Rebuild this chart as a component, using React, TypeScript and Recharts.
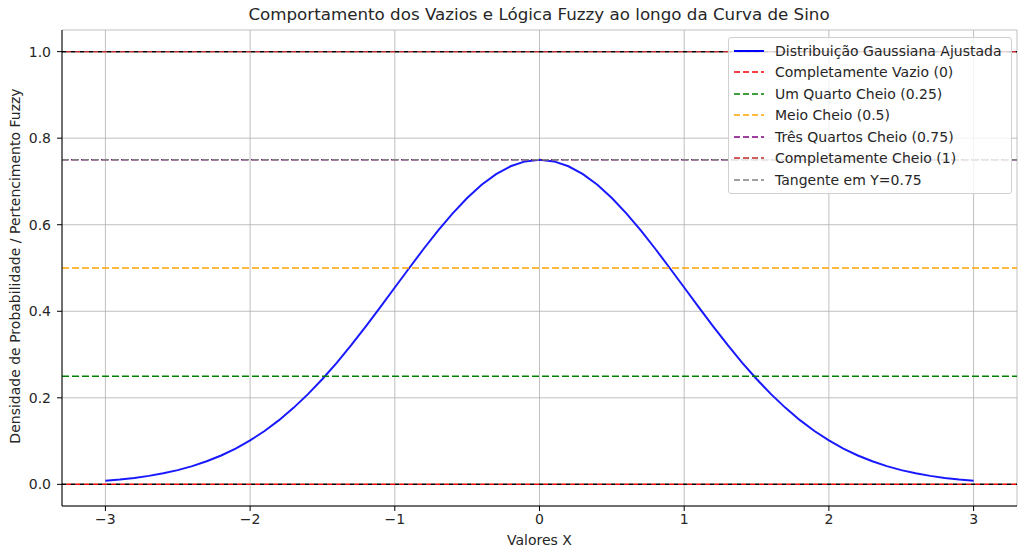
import React from "react";
import {
  LineChart,
  Line,
  XAxis,
  YAxis,
  CartesianGrid,
  ReferenceLine,
} from "recharts";

const xValues = [
  -3.0, -2.9, -2.8, -2.7, -2.6, -2.5, -2.4, -2.3, -2.2, -2.1,
  -2.0, -1.9, -1.8, -1.7, -1.6, -1.5, -1.4, -1.3, -1.2, -1.1,
  -1.0, -0.9, -0.8, -0.7, -0.6, -0.5, -0.4, -0.3, -0.2, -0.1,
  0.0, 0.1, 0.2, 0.3, 0.4, 0.5, 0.6, 0.7, 0.8, 0.9,
  1.0, 1.1, 1.2, 1.3, 1.4, 1.5, 1.6, 1.7, 1.8, 1.9,
  2.0, 2.1, 2.2, 2.3, 2.4, 2.5, 2.6, 2.7, 2.8, 2.9, 3.0,
];

const gaussValues = [
  0.0083, 0.0112, 0.0149, 0.0196, 0.0255, 0.0329, 0.0421, 0.0533, 0.0667, 0.0827,
  0.1015, 0.1234, 0.1484, 0.1768, 0.2085, 0.2435, 0.2815, 0.3222, 0.3651, 0.4096,
  0.4549, 0.5000, 0.5445, 0.5870, 0.6264, 0.6619, 0.6923, 0.7169, 0.7351, 0.7463,
  0.7500, 0.7463, 0.7351, 0.7169, 0.6923, 0.6619, 0.6264, 0.5870, 0.5445, 0.5000,
  0.4549, 0.4096, 0.3651, 0.3222, 0.2815, 0.2435, 0.2085, 0.1768, 0.1484, 0.1234,
  0.1015, 0.0827, 0.0667, 0.0533, 0.0421, 0.0329, 0.0255, 0.0196, 0.0149, 0.0112, 0.0083,
];

const xTicks = [-3, -2, -1, 0, 1, 2, 3];
const yTicks = [0, 0.2, 0.4, 0.6, 0.8, 1.0];

const levelNames = [
  "Completamente Vazio (0)",
  "Um Quarto Cheio (0.25)",
  "Meio Cheio (0.5)",
  "Três Quartos Cheio (0.75)",
  "Completamente Cheio (1)",
  "Tangente em Y=0.75",
];
const levelValues = [0, 0.25, 0.5, 0.75, 1, 0.75];
const levelColors = ["#ff0000", "#008000", "#ffa500", "#800080", "#c0282a", "#808080"];
const curveName = "Distribuição Gaussiana Ajustada";
const blackGuideValues = [0, 1];

const data = xValues.map((x, i) => ({ x, y: gaussValues[i] }));

const FONT = "'DejaVu Sans', sans-serif";
const TXT = "#262626";

function dashFor(v: number, i: number) {
  if (v === 0 || v === 1) return { dash: "4.5 4.5", offset: 4.5 };
  if (i === 3) return { dash: "7 3", offset: 1 };
  return { dash: "7 3", offset: 0 };
}

export default function App() {
  return (
    <div
      style={{
        position: "absolute",
        left: 0,
        top: 0,
        width: 1024,
        height: 551,
        background: "#fff",
        fontFamily: FONT,
      }}
    >
      <LineChart
        width={1024}
        height={551}
        data={data}
        margin={{ top: 30, right: 7, bottom: 0, left: 0 }}
      >
        <CartesianGrid stroke="#b0b0b0" strokeWidth={0.8} />
        <XAxis
          dataKey="x"
          type="number"
          domain={[-3.3, 3.3]}
          ticks={xTicks}
          allowDataOverflow
          height={45}
          tickSize={5}
          tickMargin={3}
          stroke="#000"
          tick={{ fill: TXT, fontSize: 14, fontFamily: FONT }}
          tickFormatter={(v: number) => (v < 0 ? "\u2212" + Math.abs(v) : String(v))}
        />
        <XAxis
          xAxisId="top"
          orientation="top"
          dataKey="x"
          type="number"
          domain={[-3.3, 3.3]}
          height={0}
          tick={false}
          tickLine={false}
          stroke="#000"
        />
        <YAxis
          type="number"
          domain={[-0.05, 1.05]}
          ticks={yTicks}
          allowDataOverflow
          width={62}
          tickSize={5}
          tickMargin={6}
          stroke="#000"
          tick={{ fill: TXT, fontSize: 14, fontFamily: FONT }}
          tickFormatter={(v: number) => v.toFixed(1)}
        />
        <YAxis
          yAxisId="right"
          orientation="right"
          type="number"
          domain={[-0.05, 1.05]}
          width={0}
          tick={false}
          tickLine={false}
          stroke="#000"
        />
        <Line
          dataKey="y"
          stroke="#0000ff"
          strokeWidth={2}
          dot={false}
          isAnimationActive={false}
          strokeOpacity={0.9}
        />
        {blackGuideValues.map((v) => (
          <ReferenceLine
            key={"k" + v}
            y={v}
            stroke="#000"
            strokeWidth={1.5}
            strokeDasharray="4.5 4.5"
          />
        ))}
        {levelValues.map((v, i) => {
          const d = dashFor(v, i);
          return (
            <ReferenceLine
              key={levelNames[i]}
              y={v}
              stroke={levelColors[i]}
              strokeWidth={1.5}
              strokeDasharray={d.dash}
              strokeDashoffset={d.offset}
            />
          );
        })}
      </LineChart>

      <div
        style={{
          position: "absolute",
          left: 0,
          width: 1078,
          top: 4,
          textAlign: "center",
          fontSize: 16.7,
          color: TXT,
          whiteSpace: "nowrap",
        }}
      >
        Comportamento dos Vazios e Lógica Fuzzy ao longo da Curva de Sino
      </div>
      <div
        style={{
          position: "absolute",
          left: 62,
          width: 955,
          top: 532,
          textAlign: "center",
          fontSize: 14,
          color: TXT,
        }}
      >
        Valores X
      </div>
      <div
        style={{
          position: "absolute",
          left: 15,
          top: 266,
          transform: "translate(-50%, -50%) rotate(-90deg)",
          fontSize: 14,
          color: TXT,
          whiteSpace: "nowrap",
        }}
      >
        Densidade de Probabilidade / Pertencimento Fuzzy
      </div>

      <div
        style={{
          position: "absolute",
          left: 728,
          top: 37,
          width: 284,
          height: 157,
          background: "rgba(255,255,255,0.8)",
          border: "1px solid #d0d0d0",
          borderRadius: 3,
          boxSizing: "border-box",
          paddingTop: 2,
        }}
      >
        {[curveName, ...levelNames].map((name, i) => (
          <div
            key={name}
            style={{
              height: 21.5,
              display: "flex",
              alignItems: "center",
              fontSize: 14,
              color: TXT,
              whiteSpace: "nowrap",
            }}
          >
            <svg width={46} height={10} style={{ flex: "none" }}>
              <line
                x1={5}
                x2={35}
                y1={5}
                y2={5}
                stroke={i === 0 ? "#0000ff" : levelColors[i - 1]}
                strokeWidth={i === 0 ? 2 : 1.5}
                strokeDasharray={i === 0 ? undefined : "6 3"}
              />
            </svg>
            <span>{name}</span>
          </div>
        ))}
      </div>
    </div>
  );
}
